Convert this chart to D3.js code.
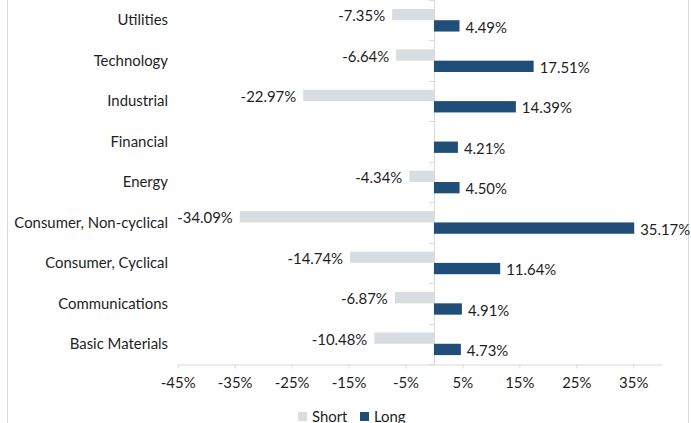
<!DOCTYPE html>
<html>
<head>
<meta charset="utf-8">
<script src="https://cdn.jsdelivr.net/npm/d3@7"></script>
<style>
  body { margin: 0; background: #fff; }
  svg { display: block; font-family: Lato, "Open Sans", sans-serif; }
</style>
</head>
<body>
<svg id="chart" width="691" height="423"></svg>
<script>
// sectors, top to bottom
const categories = ["Utilities", "Technology", "Industrial", "Financial", "Energy",
  "Consumer, Non-cyclical", "Consumer, Cyclical", "Communications", "Basic Materials"]
const shortValues = [-7.35, -6.64, -22.97, null, -4.34, -34.09, -14.74, -6.87, -10.48]
const longValues = [4.49, 17.51, 14.39, 4.21, 4.50, 35.17, 11.64, 4.91, 4.73]
const xTicks = [-45, -35, -25, -15, -5, 5, 15, 25, 35]
const seriesNames = ["Short", "Long"]

const colors = { Short: "#d9dde1", Long: "#1f4e79" }
const textColor = "#1e1e1e"
const lineColor = "#d9d9d9"
const fontSize = 14.9

const svg = d3.select("#chart")

// chart area border (only sides visible)
svg.append("line").attr("x1", 7.5).attr("x2", 7.5).attr("y1", 0).attr("y2", 423)
    .attr("stroke", lineColor)
svg.append("line").attr("x1", 688.5).attr("x2", 688.5).attr("y1", 0).attr("y2", 423)
    .attr("stroke", lineColor)

const x = d3.scaleLinear().domain([-45, 40]).range([177.7, 661.7])
const y = d3.scaleBand().domain(categories).range([0, 364])
    .paddingInner(0.44).paddingOuter(0.22)
const sub = d3.scaleBand().domain(seriesNames).range([0, y.bandwidth()])

const rows = categories.map((c, i) => ({ cat: c, Short: shortValues[i], Long: longValues[i] }))

// x axis
const xAxis = svg.append("g")
    .attr("transform", "translate(0,364.5)")
    .call(d3.axisBottom(x).tickValues(xTicks).tickSize(4).tickSizeOuter(0)
        .tickFormat(d => d + "%"))
xAxis.selectAll("path, line").attr("stroke", lineColor)
xAxis.selectAll("text")
    .attr("y", 23.5).attr("dy", null)
    .attr("fill", textColor)
    .style("font-size", fontSize + "px")
    .style("font-family", "Lato, sans-serif")

// category axis at zero
const x0 = Math.round(x(0)) + 0.5
svg.append("line").attr("x1", x0).attr("x2", x0).attr("y1", 0).attr("y2", 364.5)
    .attr("stroke", lineColor)
svg.append("g").selectAll("line")
    .data(d3.range(categories.length + 1))
    .join("line")
    .attr("x1", x0 - 5).attr("x2", x0)
    .attr("y1", i => Math.round(i * y.step()) + 0.5)
    .attr("y2", i => Math.round(i * y.step()) + 0.5)
    .attr("stroke", lineColor)

// category labels
svg.append("g").selectAll("text")
    .data(categories)
    .join("text")
    .attr("x", 168)
    .attr("y", d => y(d) + y.bandwidth() / 2)
    .attr("dy", "0.35em")
    .attr("text-anchor", "end")
    .attr("fill", textColor)
    .style("font-size", fontSize + "px")
    .text(d => d)

// bars
const bars = []
rows.forEach(r => seriesNames.forEach(s => {
    if (r[s] != null) bars.push({ cat: r.cat, series: s, value: r[s] })
}))

svg.append("g").selectAll("rect")
    .data(bars)
    .join("rect")
    .attr("x", d => x(Math.min(0, d.value)))
    .attr("width", d => Math.abs(x(d.value) - x(0)))
    .attr("y", d => y(d.cat) + sub(d.series))
    .attr("height", sub.bandwidth())
    .attr("fill", d => colors[d.series])

// value labels
svg.append("g").selectAll("text")
    .data(bars)
    .join("text")
    .attr("x", d => d.value < 0 ? x(d.value) - 7 : x(d.value) + 6)
    .attr("y", d => y(d.cat) + sub(d.series) + sub.bandwidth() / 2 + 1.5)
    .attr("dy", "0.35em")
    .attr("text-anchor", d => d.value < 0 ? "end" : "start")
    .attr("fill", textColor)
    .style("font-size", fontSize + "px")
    .text(d => d.value.toFixed(2) + "%")

// legend
const legend = svg.append("g").attr("transform", "translate(298,412)")
const lx = [0, 62]
seriesNames.forEach((s, i) => {
    legend.append("rect").attr("x", lx[i]).attr("y", 0).attr("width", 9).attr("height", 9)
        .attr("fill", colors[s])
    legend.append("text").attr("x", lx[i] + 14).attr("y", 9.5)
        .attr("fill", textColor)
        .style("font-size", fontSize + "px")
        .text(s)
})
</script>
</body>
</html>
